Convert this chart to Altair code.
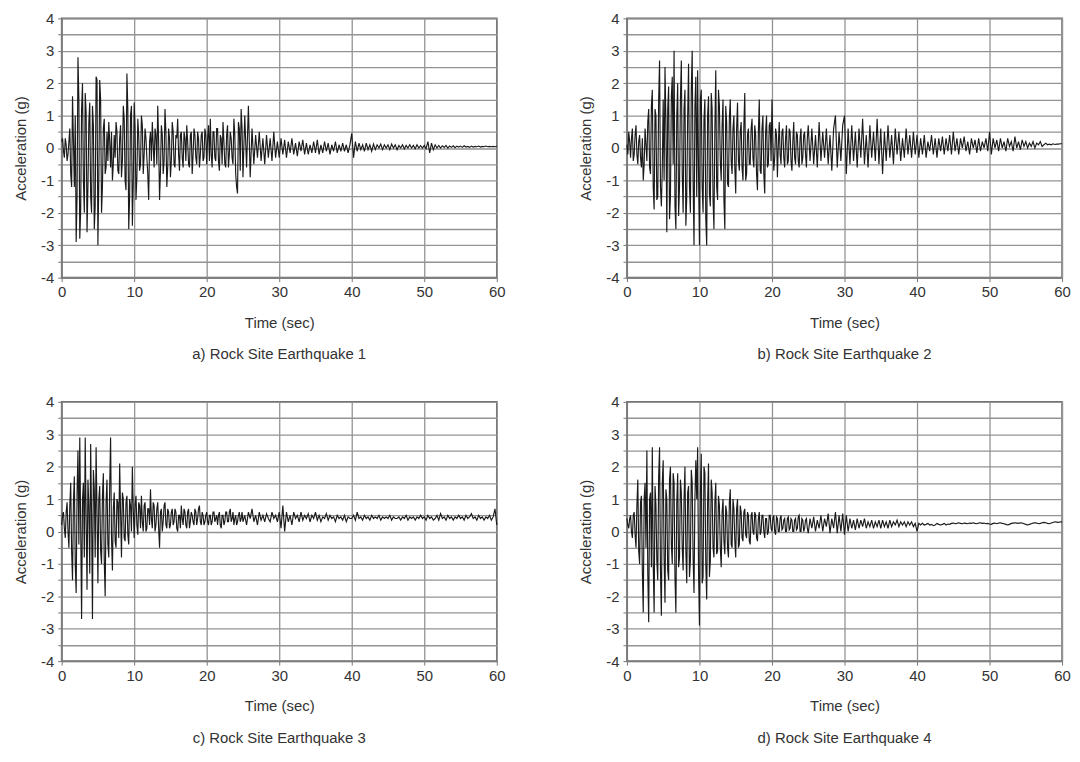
import altair as alt
import pandas as pd

DT = 0.25  # sampling step of the digitised records (s); MID values sit half a step later

EQ1 = [
    0.2, -0.1, 0.3, -0.4, 0.2, -0.8, 1.6, -1.2, -2.9, 2.8, -2.8, 1.2, -1.0, 1.7, -2.6, 0.8, -1.5, 1.3, -2.5, 2.2,
    -3.0, 2.1, -2.0, 0.6, -0.8, 0.5, 0.8, -0.6, -1.0, 0.4, 0.8, -0.7, 0.3, -0.9, 1.3, -1.0, 2.3, -2.5, 1.0, -2.4,
    1.4, -1.6, 0.9, -0.7, 1.0, -0.8, 0.6, -0.3, -1.6, 0.5, 0.8, -0.6, 0.4, 1.3, -1.6, 0.7, -0.8, 1.2, -1.2, 0.6,
    -0.9, 0.8, -0.5, 0.4, 0.9, -0.7, 0.5, -0.6, 0.3, 0.7, -0.5, 0.4, -0.8, 0.6, -0.3, 0.5, -0.6, 0.4, -0.4, 0.6,
    -0.5, 0.7, 0.9, -0.6, 0.5, -0.4, 0.6, -0.7, 0.3, 0.8, -0.5, 0.4, -0.6, 0.5, -0.3, 0.9, -0.8, -1.4, 0.6, 1.2,
    -0.9, 1.0, -0.6, 1.3, -0.9, 0.6, -0.5, 0.4, -0.3, 0.5, -0.4, 0.3, -0.5, 0.4, -0.3, 0.3, -0.4, 0.5, -0.3, 0.2,
    -0.3, 0.3, -0.2, 0.25, -0.3, 0.2, -0.15, 0.3, -0.2, 0.15, -0.25, 0.2, -0.1, 0.25, -0.2, 0.15, -0.2, 0.1, -0.15, 0.2,
    -0.15, 0.25, -0.2, 0.1, -0.15, 0.2, -0.1, 0.15, -0.2, 0.1, -0.1, 0.2, -0.15, 0.1, -0.1, 0.15, -0.1, 0.1, -0.15, 0.1,
    0.45, -0.3, 0.2, -0.1, 0.15, -0.05, 0.1, -0.1, 0.15, -0.05, 0.1, -0.1, 0.12, -0.05, 0.1, 0.0, 0.12, -0.05, 0.1, 0.0,
    0.1, -0.05, 0.12, 0.0, 0.1, -0.05, 0.08, 0.0, 0.1, -0.03, 0.08, 0.0, 0.1, 0.0, 0.08, -0.02, 0.1, 0.0, 0.07, 0.0,
    0.08, -0.02, 0.2, -0.15, 0.15, -0.05, 0.1, 0.0, 0.08, 0.0, 0.07, 0.02, 0.08, 0.0, 0.06, 0.02, 0.07, 0.01, 0.06, 0.03,
    0.06, 0.02, 0.07, 0.03, 0.05, 0.02, 0.06, 0.03, 0.05, 0.04, 0.06, 0.03, 0.05, 0.04, 0.06, 0.04, 0.05, 0.04, 0.05, 0.04,
    0.05,
]
EQ1_MID = [
    0.3, -0.3, 0.1, -0.2, 0.6, -1.2, 0.2, 1.0, -1.5, 1.5, -1.9, 2.0, -2.0, 1.1, -1.2, 1.4, -2.0, 0.7, -1.8, 2.1,
    -1.0, 1.5, -1.2, 0.9, -0.6, -0.4, 0.2, 0.5, -0.5, -0.3, 0.5, -0.8, 0.7, -0.4, 0.9, -1.3, 1.2, -1.5, 1.3, -1.1,
    0.6, -0.9, 0.4, -0.5, 0.7, -0.2, 0.3, -0.8, 0.2, -0.4, 0.1, 0.6, -0.5, 0.2, -0.7, 0.4, -0.4, 0.5, -0.6, 0.3,
    -0.4, 0.5, -0.6, 0.3, -0.2, 0.4, -0.3, 0.5, -0.4, 0.2, -0.6, 0.5, -0.2, 0.4, -0.5, 0.3, -0.2, 0.5, -0.3, 0.4,
    0.3, -0.4, -0.2, 0.5, -0.3, 0.6, -0.4, 0.4, -0.5, 0.2, -0.6, 0.7, -0.2, 0.3, -0.5, 0.4, -1.2, 0.8, -0.7, 0.6,
]

EQ2 = [
    0.1, 0.5, -0.3, 0.6, -0.2, 0.7, -0.5, 0.4, -0.6, -1.0, 0.6, -0.4, 1.2, -0.8, 1.8, -1.9, 1.0, -1.5, 2.7, -1.8,
    1.5, 2.5, -2.6, 1.9, -1.5, 2.2, 3.0, -2.5, 2.0, -1.2, 2.7, -2.0, 1.8, -1.5, 2.6, -2.0, 3.0, -3.0, 2.2, 2.4,
    -3.0, 1.8, -2.0, 1.5, -3.0, 1.6, -1.8, 1.2, -2.5, 2.4, -1.6, 1.3, -1.0, 1.5, -2.5, 0.8, -1.2, 1.5, -0.8, 1.0,
    -1.4, 1.4, -0.7, 0.8, -1.0, 1.7, -0.8, 0.6, -0.5, 0.9, -0.6, 0.4, -1.3, 1.5, -0.8, 1.0, -1.4, 1.0, -0.5, 0.8,
    1.5, -0.7, 0.6, -0.9, 0.8, -0.5, 0.6, -0.6, 0.7, -0.4, 0.5, -0.7, 0.8, -0.5, 0.4, -0.6, 0.6, -0.3, 0.5, -0.6,
    0.7, -0.4, 0.6, -0.5, 0.4, -0.6, 0.8, -0.4, 0.5, -0.3, 0.6, -0.5, 0.4, -0.7, 0.6, 1.0, -0.6, 0.5, -0.4, 0.7,
    1.0, -0.8, 0.6, -0.5, 0.7, -0.4, 0.5, -0.6, 0.6, -0.3, 0.9, -0.5, 0.4, -0.6, 0.7, -0.3, 0.5, -0.4, 0.9, -0.5,
    0.6, -0.8, 0.5, -0.4, 0.7, -0.3, 0.4, -0.5, 0.6, -0.2, 0.5, -0.4, 0.3, -0.3, 0.6, -0.2, 0.4, -0.3, 0.5, -0.2,
    0.4, -0.3, 0.3, -0.2, 0.4, -0.3, 0.2, -0.1, 0.4, -0.2, 0.3, -0.3, 0.3, -0.1, 0.35, -0.2, 0.3, -0.1, 0.4, -0.2,
    0.5, -0.1, 0.3, -0.2, 0.3, 0.0, 0.35, -0.1, 0.2, -0.2, 0.3, 0.0, 0.25, -0.15, 0.3, -0.1, 0.2, 0.0, 0.3, -0.1,
    0.5, -0.2, 0.3, 0.0, 0.25, -0.1, 0.3, 0.0, 0.2, -0.1, 0.3, 0.05, 0.2, -0.1, 0.35, 0.0, 0.2, -0.05, 0.25, 0.05,
    0.2, 0.0, 0.15, 0.05, 0.2, 0.0, 0.15, 0.1, 0.2, 0.05, 0.1, 0.15, 0.1, 0.12, 0.1, 0.13, 0.11, 0.12, 0.12, 0.13,
    0.13,
]
EQ2_MID = [
    -0.2, 0.2, 0.3, -0.4, 0.4, -0.2, 0.2, -0.3, 0.3, -0.5, 0.1, 0.8, -0.6, 1.3, -1.2, 1.2, -1.6, 1.5, -1.2, -0.6,
    -1.0, 0.8, 1.2, -2.2, 1.6, -0.5, -1.8, 1.0, -2.1, 1.5, -0.8, 1.2, -2.4, 1.0, -1.2, 1.8, -1.0, 1.3, -1.5, -0.8,
    1.5, -1.2, 0.9, -2.2, 1.0, -1.4, 1.7, -1.6, 0.6, -1.2, 1.8, -0.4, 0.7, -1.6, 1.3, -1.1, 0.9, -0.4, 0.6, -0.6,
    0.6, -0.4, 0.5, -0.6, 0.7, -1.0, 0.4, -0.5, 0.6, -0.3, 0.7, -0.8, 0.5, -0.7, 0.6, -0.8, 0.5, -0.6, 0.7, -0.4,
    0.2, -0.3, 0.4, 0.1, -0.2, 0.5, -0.3, 0.3, -0.5, 0.6, -0.4, 0.2, -0.3, 0.5, -0.4, 0.3, -0.5, 0.4, -0.2, 0.3,
]

EQ3 = [
    0.2, 0.6, -0.2, 0.9, -0.5, 1.5, -1.5, 1.7, -1.9, 2.5, 2.9, -2.7, 1.5, 2.9, -1.8, 0.8, 2.7, -2.7, 1.3, 2.6,
    -1.6, 1.4, -1.0, 1.8, -2.0, 1.6, -0.8, 2.9, -1.2, 1.2, -0.5, 0.9, 2.1, -0.8, 1.0, -0.3, 1.1, -0.4, 0.8, 2.0,
    -0.2, 1.1, -0.1, 0.8, 1.1, 0.0, 0.9, 0.1, 0.7, 1.3, 0.1, 0.8, 0.2, 0.9, -0.5, 0.7, 0.3, 0.9, 0.1, 0.6,
    0.2, 0.7, 0.3, 0.6, 0.0, 0.5, 0.8, 0.2, 0.6, 0.1, 0.7, 0.3, 0.5, 0.2, 0.6, 0.4, 0.8, 0.2, 0.5, 0.3,
    0.6, 0.2, 0.5, 0.3, 0.6, 0.4, 0.2, 0.6, 0.1, 0.5, 0.3, 0.6, 0.3, 0.7, 0.4, 0.2, 0.5, 0.3, 0.6, 0.4,
    0.3, 0.5, 0.2, 0.6, 0.4, 0.7, 0.3, 0.5, 0.2, 0.6, 0.35, 0.5, 0.3, 0.55, 0.4, 0.3, 0.6, 0.4, 0.5, 0.3,
    0.6, 0.1, 0.8, 0.0, 0.6, 0.3, 0.5, 0.2, 0.6, 0.4, 0.5, 0.3, 0.6, 0.35, 0.5, 0.4, 0.55, 0.3, 0.5, 0.4,
    0.6, 0.35, 0.5, 0.3, 0.45, 0.4, 0.55, 0.35, 0.5, 0.4, 0.45, 0.3, 0.5, 0.4, 0.45, 0.35, 0.5, 0.3, 0.45, 0.4,
    0.4, 0.5, 0.35, 0.6, 0.4, 0.45, 0.35, 0.5, 0.4, 0.45, 0.35, 0.5, 0.4, 0.45, 0.4, 0.5, 0.35, 0.45, 0.4, 0.45,
    0.4, 0.5, 0.35, 0.45, 0.4, 0.4, 0.45, 0.35, 0.45, 0.4, 0.5, 0.35, 0.45, 0.4, 0.45, 0.35, 0.45, 0.4, 0.5, 0.4,
    0.45, 0.35, 0.5, 0.4, 0.45, 0.35, 0.4, 0.5, 0.35, 0.55, 0.4, 0.45, 0.35, 0.5, 0.4, 0.45, 0.35, 0.45, 0.4, 0.5,
    0.4, 0.45, 0.35, 0.5, 0.4, 0.45, 0.55, 0.4, 0.45, 0.35, 0.5, 0.4, 0.45, 0.35, 0.45, 0.4, 0.5, 0.35, 0.45, 0.7,
    0.2,
]
EQ3_MID = [
    0.5, 0.1, 0.6, 0.0, 0.8, -0.6, 0.9, -1.0, 1.2, -0.4, 0.2, 1.0, -0.8, 0.4, 1.6, -1.3, 0.5, 1.9, -0.8, 0.6,
    1.0, -0.6, 1.1, -0.9, 0.9, -0.4, 1.4, -0.2, 0.7, -0.3, 1.0, -0.2, 0.6, 1.2, -0.2, 0.9, -0.1, 1.0, 0.0, 0.7,
    0.8, 0.2, 0.9, 0.1, 0.3, 0.8, 0.0, 0.7, 0.2, 0.4, 0.9, 0.0, 0.7, 0.1, 0.6, 0.0, 0.8, 0.2, 0.7, 0.1,
    0.6, 0.2, 0.7, 0.1, 0.5, 0.1, 0.4, 0.7, 0.2, 0.6, 0.1, 0.6, 0.3, 0.7, 0.2, 0.7, 0.3, 0.6, 0.2, 0.5,
    0.3, 0.5, 0.2, 0.6, 0.3, 0.5, 0.5, 0.2, 0.5, 0.2, 0.6, 0.3, 0.6, 0.3, 0.6, 0.4, 0.2, 0.5, 0.3, 0.6,
]

EQ4 = [
    0.4, 0.1, 0.5, -0.2, 0.6, -0.5, 1.6, -1.0, 1.1, -2.5, 1.5, 2.5, -2.8, 1.2, 2.6, -2.5, 0.8, -1.5, 2.6, -2.6,
    2.2, -2.2, 1.0, -1.5, 2.0, -1.0, 1.5, -2.5, 1.8, -0.8, 1.2, -1.2, 2.0, -1.6, 1.4, -0.9, 1.5, -1.9, 2.2, 2.6,
    -2.9, 2.4, -1.4, 1.8, -2.1, 2.1, -0.9, 1.2, -0.8, 1.5, -0.6, 0.8, -1.1, 1.0, -0.7, 0.6, -0.8, 1.3, -0.5, 0.7,
    -0.8, 1.0, -0.4, 0.6, -0.3, 0.7, -0.2, 0.5, -0.4, 0.6, -0.1, 0.5, -0.3, 0.6, 0.0, 0.5, -0.2, 0.4, 0.0, 0.5,
    0.0, 0.5, -0.1, 0.4, 0.0, 0.5, 0.1, 0.4, 0.0, 0.45, 0.1, 0.35, 0.0, 0.4, 0.1, 0.5, 0.0, 0.35, 0.1, 0.4,
    -0.05, 0.4, 0.1, 0.45, 0.0, 0.35, 0.1, 0.5, 0.0, 0.4, 0.15, 0.55, -0.05, 0.4, 0.1, 0.6, -0.05, 0.5, 0.0, 0.55,
    -0.1, 0.5, 0.0, 0.4, 0.1, 0.35, 0.05, 0.4, 0.1, 0.35, 0.15, 0.4, 0.1, 0.3, 0.15, 0.35, 0.1, 0.3, 0.15, 0.35,
    0.1, 0.35, 0.15, 0.3, 0.1, 0.35, 0.15, 0.3, 0.2, 0.35, 0.15, 0.3, 0.2, 0.3, 0.15, 0.3, 0.2, 0.3, 0.15, 0.25,
    0.0, 0.25, 0.2, 0.25, 0.2, 0.22, 0.25, 0.2, 0.22, 0.18, 0.2, 0.25, 0.22, 0.2, 0.22, 0.25, 0.2, 0.23, 0.22, 0.25,
    0.26, 0.24, 0.25, 0.27, 0.25, 0.24, 0.26, 0.25, 0.24, 0.26, 0.25, 0.27, 0.25, 0.24, 0.26, 0.27, 0.25, 0.26, 0.24, 0.25,
    0.23, 0.22, 0.25, 0.26, 0.24, 0.26, 0.27, 0.25, 0.24, 0.22, 0.2, 0.22, 0.25, 0.26, 0.27, 0.26, 0.25, 0.27, 0.26, 0.24,
    0.22, 0.2, 0.22, 0.24, 0.26, 0.27, 0.26, 0.24, 0.25, 0.27, 0.28, 0.27, 0.25, 0.24, 0.26, 0.28, 0.3, 0.29, 0.28, 0.3,
    0.29,
]
EQ4_MID = [
    0.2, 0.4, 0.0, 0.5, -0.1, 0.8, -0.6, 0.9, -1.2, 1.0, -0.5, -1.3, 1.0, -1.1, -1.0, 1.4, -0.9, 1.7, -1.2, 1.5,
    -0.8, 1.3, -1.2, 1.6, -0.4, 1.8, -1.4, 0.9, -1.1, 1.6, -0.5, 1.0, -0.6, 1.2, -1.4, 1.9, -0.8, 1.0, 1.0, -1.2,
    1.2, -1.6, 2.0, -1.0, 0.9, -1.4, 1.6, -0.5, 0.9, -0.7, 1.1, -0.5, 0.6, -0.3, 0.8, -0.5, 0.9, -0.4, 1.0, -0.3,
    0.7, -0.5, 0.8, -0.2, 0.6, -0.1, 0.6, -0.3, 0.5, 0.0, 0.6, -0.2, 0.4, -0.1, 0.5, 0.0, 0.4, -0.1, 0.5, 0.1,
    0.4, 0.0, 0.45, 0.0, 0.4, 0.05, 0.35, 0.0, 0.4, 0.05, 0.4, 0.0, 0.35, 0.05, 0.45, 0.0, 0.4, 0.0, 0.35, 0.1,
]

PANEL_TITLES = [
    "a) Rock Site Earthquake 1",
    "b) Rock Site Earthquake 2",
    "c) Rock Site Earthquake 3",
    "d) Rock Site Earthquake 4",
]
X_TICKS = [0, 10, 20, 30, 40, 50, 60]
Y_TICKS = [-4, -3.5, -3, -2.5, -2, -1.5, -1, -0.5, 0, 0.5, 1, 1.5, 2, 2.5, 3, 3.5, 4]

FONT = "Liberation Sans"
W, H = 438, 261


def panel(values, mids, title):
    t = [i * DT for i in range(len(values))] + [DT / 2 + k * DT for k in range(len(mids))]
    df = pd.DataFrame({"t": t, "a": list(values) + list(mids)}).sort_values("t")
    return (
        alt.Chart(df)
        .mark_line(color="#1a1a1a", strokeWidth=1.15)
        .encode(
            x=alt.X(
                "t:Q",
                sort=None,
                scale=alt.Scale(domain=[0, 60], nice=False),
                axis=alt.Axis(
                    values=X_TICKS,
                    title="Time (sec)",
                    labelFlush=False,
                    tickSize=4,
                    labelPadding=3,
                    titlePadding=16,
                ),
            ),
            y=alt.Y(
                "a:Q",
                scale=alt.Scale(domain=[-4, 4], nice=False),
                axis=alt.Axis(
                    values=Y_TICKS,
                    labelExpr="datum.value % 1 == 0 ? '' + datum.value : ''",
                    title="Acceleration (g)",
                    labelFlush=False,
                    tickSize=4,
                    labelPadding=4,
                    titlePadding=12,
                ),
            ),
        )
        .properties(
            width=W,
            height=H,
            title=alt.TitleParams(
                title, orient="bottom", fontSize=15, fontWeight="normal",
                font=FONT, color="#333333", offset=17,
            ),
        )
    )


top = alt.hconcat(panel(EQ1, EQ1_MID, PANEL_TITLES[0]), panel(EQ2, EQ2_MID, PANEL_TITLES[1]), spacing=71)
bottom = alt.hconcat(panel(EQ3, EQ3_MID, PANEL_TITLES[2]), panel(EQ4, EQ4_MID, PANEL_TITLES[3]), spacing=71)

chart = (
    alt.vconcat(top, bottom, spacing=31)
    .properties(padding={"left": 4, "top": 0, "right": 0, "bottom": 0}, background="white")
    .configure_axis(
        labelFont=FONT,
        titleFont=FONT,
        labelFontSize=15,
        titleFontSize=15,
        titleFontWeight="normal",
        labelColor="#333333",
        titleColor="#333333",
        grid=True,
        gridColor="#939393",
        gridWidth=1.3,
        tickColor="#777777",
        domainColor="#777777",
    )
    .configure_view(stroke="#6a6a6a", strokeWidth=1.6)
)

chart.save("out.html", embed_options={"renderer": "svg", "actions": False})
